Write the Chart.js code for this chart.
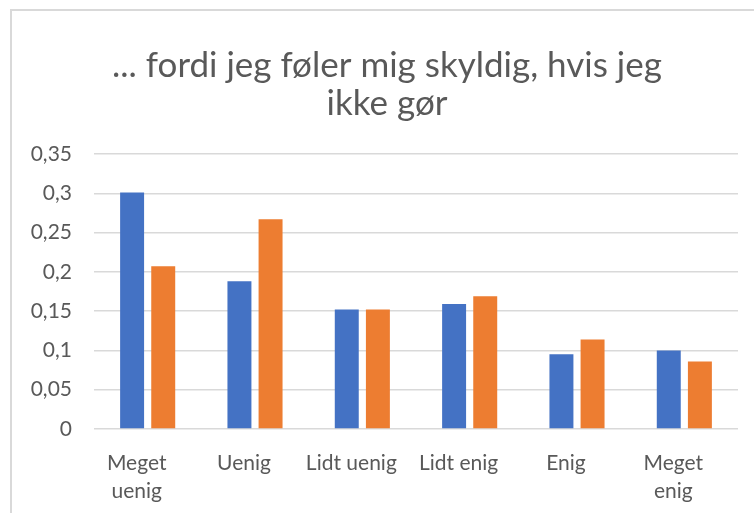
<!DOCTYPE html>
<html>
<head>
<meta charset="utf-8">
<script src="https://cdn.jsdelivr.net/npm/chart.js@4"></script>
<style>
  html, body { margin: 0; padding: 0; background: #fff; overflow: hidden; }
  #frame { position: absolute; left: 10px; top: 9px; width: 800px; height: 600px;
           border-left: 2px solid #d9d9d9; border-top: 2px solid #d9d9d9; }
  #chart { position: absolute; left: 0; top: 0; }
</style>
</head>
<body>
<div id="frame"></div>
<canvas id="chart" width="754" height="513"></canvas>
<script>
// labels and values
var categories = [['Meget', 'uenig'], 'Uenig', 'Lidt uenig', 'Lidt enig', 'Enig', ['Meget', 'enig']];
var seriesBlue = [0.301, 0.188, 0.152, 0.159, 0.095, 0.100];
var seriesOrange = [0.207, 0.267, 0.152, 0.169, 0.114, 0.086];
var titleLines = ['... fordi jeg føler mig skyldig, hvis jeg', 'ikke gør'];

var grey = '#595959';

// title sits centred on the whole frame, not on the plot
var shiftTitle = {
    id: 'shiftTitle',
    afterLayout: function (chart) {
        if (chart.titleBlock) chart.titleBlock.left = 36;
    }
};

var ctx = document.getElementById('chart').getContext('2d');
var chart = new Chart(ctx, {
    type: 'bar',
    data: {
        labels: categories,
        datasets: [{
            label: 'Serie 1',
            data: seriesBlue,
            backgroundColor: '#4472C4',
            borderWidth: 0
        }, {
            label: 'Serie 2',
            data: seriesOrange,
            backgroundColor: '#ED7D31',
            borderWidth: 0
        }]
    },
    options: {
        responsive: false,
        animation: false,
        categoryPercentage: 0.58,
        barPercentage: 0.77,
        layout: { padding: { left: 0, right: 16, top: 0, bottom: 0 } },
        plugins: {
            legend: { display: false },
            tooltip: { enabled: false },
            title: {
                display: true,
                text: titleLines,
                color: grey,
                font: { family: 'Lato', size: 35, weight: 'normal', lineHeight: 1.1 },
                padding: { top: 46, bottom: 31 }
            }
        },
        scales: {
            x: {
                grid: { display: false },
                border: { display: false },
                ticks: {
                    color: grey,
                    font: { family: 'Lato', size: 21, lineHeight: 1.3 },
                    padding: 13,
                    labelOffset: -11,
                    maxRotation: 0,
                    autoSkip: false
                },
                afterFit: function (scale) { scale.height = 84; }
            },
            y: {
                min: 0,
                max: 0.35,
                grid: { color: '#d9d9d9', lineWidth: 1.5, drawTicks: false },
                border: { display: false },
                ticks: {
                    stepSize: 0.05,
                    color: grey,
                    font: { family: 'Lato', size: 21 },
                    padding: 22,
                    callback: function (v) {
                        return String(Math.round(v * 100) / 100).replace('.', ',');
                    }
                },
                afterFit: function (scale) { scale.width = 94; }
            }
        }
    },
    plugins: [shiftTitle]
});
</script>
</body>
</html>
